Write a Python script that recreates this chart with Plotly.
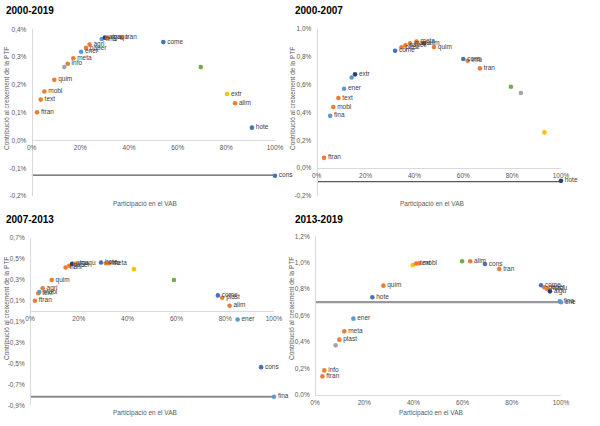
import plotly.graph_objects as go

# ---------------- DATA ----------------
titles = ["2000-2019", "2000-2007", "2007-2013", "2013-2019"]
x_title = "Participació en el VAB"
y_title = "Contribució al creixement de la PTF"

# Panel 1: 2000-2019 (x: % VAB share, y: % contribution)
p1_x = [2.2, 3.7, 5.2, 9.3, 13.4, 14.8, 17.1, 20.3, 22.3, 23.8, 28.8, 30.1, 31.2, 37.0, 54.1, 69.5, 80.3, 83.6, 90.5, 100.0]
p1_y = [0.101, 0.147, 0.176, 0.218, 0.264, 0.276, 0.296, 0.319, 0.333, 0.345, 0.365, 0.370, 0.370, 0.370, 0.354, 0.264, 0.167, 0.134, 0.046, -0.127]
p1_lab = ["ftran", "text", "mobl", "quim", "", "info", "meta", "ener", "paper", "agri", "fina", "aigu", "maqu", "tran", "come", "", "extr", "alim", "hote", "cons"]
p1_grp = ["o", "o", "o", "o", "g", "o", "o", "lb", "o", "o", "lb", "nv", "o", "o", "db", "gr", "y", "o", "db", "db"]
p1_ref = -0.125

# Panel 2: 2000-2007
p2_x = [3.0, 5.5, 6.8, 8.9, 11.2, 14.3, 15.7, 32.1, 34.7, 36.3, 38.2, 40.9, 43.9, 48.0, 60.0, 61.8, 66.8, 79.5, 83.6, 93.2, 100.0]
p2_y = [0.074, 0.376, 0.439, 0.504, 0.571, 0.652, 0.674, 0.844, 0.868, 0.882, 0.897, 0.909, 0.897, 0.870, 0.784, 0.772, 0.717, 0.585, 0.540, 0.257, -0.091]
p2_lab = ["ftran", "fina", "mobl", "text", "ener", "", "extr", "come", "plast", "paper", "maqu", "meta", "alim", "quim", "cons", "info", "tran", "", "", "", "hote"]
p2_grp = ["o", "lb", "o", "o", "lb", "lb", "nv", "db", "o", "o", "o", "o", "br", "o", "db", "o", "o", "gr", "g", "y", "nv"]
p2_ref = -0.096

# Panel 3: 2007-2013
p3_x = [2.0, 3.4, 3.8, 5.2, 8.9, 14.6, 16.1, 17.3, 18.6, 29.1, 31.1, 32.2, 42.6, 59.0, 77.0, 78.8, 81.8, 85.1, 94.7, 100.0]
p3_y = [0.100, 0.171, 0.183, 0.219, 0.299, 0.418, 0.434, 0.453, 0.453, 0.466, 0.459, 0.459, 0.402, 0.299, 0.151, 0.129, 0.052, -0.080, -0.535, -0.818]
p3_lab = ["ftran", "text", "mobl", "agri", "quim", "tran", "paper", "aigu", "maqu", "hote", "info", "meta", "", "", "come", "plast", "alim", "ener", "cons", "fina"]
p3_grp = ["o", "o", "lb", "o", "o", "o", "o", "nv", "o", "db", "o", "o", "y", "gr", "db", "o", "o", "lb", "db", "lb"]
p3_ref = -0.818

# Panel 4: 2013-2019
p4_x = [3.0, 3.8, 8.4, 9.9, 11.9, 15.6, 23.3, 27.8, 39.7, 41.1, 42.3, 59.8, 63.1, 69.1, 74.9, 91.9, 93.2, 94.3, 95.5, 99.5, 100.0]
p4_y = [0.139, 0.184, 0.374, 0.417, 0.480, 0.576, 0.738, 0.826, 0.983, 0.993, 0.995, 1.011, 1.011, 0.990, 0.953, 0.829, 0.814, 0.803, 0.783, 0.707, 0.700]
p4_lab = ["ftran", "info", "", "plast", "meta", "ener", "hote", "quim", "", "text", "mobl", "", "alim", "cons", "tran", "come", "paper", "maqu", "aigu", "fina", "ene"]
p4_grp = ["o", "o", "g", "o", "o", "lb", "db", "o", "y", "o", "o", "gr", "o", "db", "o", "db", "o", "o", "nv", "lb", "lb"]
p4_ref = 0.702

x_tickvals = [0, 20, 40, 60, 80, 100]
x_ticktext = ["0%", "20%", "40%", "60%", "80%", "100%"]
p1_yticks = [-0.2, -0.1, 0.0, 0.1, 0.2, 0.3, 0.4]
p1_yticktext = ["-0,2%", "-0,1%", "0,0%", "0,1%", "0,2%", "0,3%", "0,4%"]
p2_yticks = [-0.2, 0.0, 0.2, 0.4, 0.6, 0.8, 1.0]
p2_yticktext = ["-0,2%", "0,0%", "0,2%", "0,4%", "0,6%", "0,8%", "1,0%"]
p3_yticks = [-0.9, -0.7, -0.5, -0.3, -0.1, 0.1, 0.3, 0.5, 0.7]
p3_yticktext = ["-0,9%", "-0,7%", "-0,5%", "-0,3%", "-0,1%", "0,1%", "0,3%", "0,5%", "0,7%"]
p4_yticks = [0.0, 0.2, 0.4, 0.6, 0.8, 1.0, 1.2]
p4_yticktext = ["0,0%", "0,2%", "0,4%", "0,6%", "0,8%", "1,0%", "1,2%"]

# ---------------- STYLE / LAYOUT ----------------
W, H = 600, 426
colors = {"o": "#ED7D31", "lb": "#5B9BD5", "db": "#4472C4", "nv": "#264478",
          "g": "#A5A5A5", "y": "#FFC000", "gr": "#70AD47", "br": "#9E480E"}
FONT = "Liberation Sans, Arial, sans-serif"


def px_x(p):
    return p / W


def px_y(p):
    return 1 - p / H


panels = [
    dict(x=p1_x, y=p1_y, lab=p1_lab, grp=p1_grp, ref=p1_ref, yt=p1_yticks, ytt=p1_yticktext,
         xdom=[px_x(31.7), px_x(275)], ydom=[px_y(196), px_y(29.3)], yr=[-0.2, 0.4],
         title_xy=(5, 10), ytitle_xy=(6, 99), xtitle_xy=(145, 204), ref_col="#595959", ref_w=1.3),
    dict(x=p2_x, y=p2_y, lab=p2_lab, grp=p2_grp, ref=p2_ref, yt=p2_yticks, ytt=p2_yticktext,
         xdom=[px_x(316.7), px_x(561)], ydom=[px_y(196), px_y(29)], yr=[-0.2, 1.0],
         title_xy=(294, 10), ytitle_xy=(292, 99), xtitle_xy=(432, 204), ref_col="#595959", ref_w=1.3),
    dict(x=p3_x, y=p3_y, lab=p3_lab, grp=p3_grp, ref=p3_ref, yt=p3_yticks, ytt=p3_yticktext,
         xdom=[px_x(30), px_x(274)], ydom=[px_y(405.3), px_y(238)], yr=[-0.9, 0.7],
         title_xy=(5, 219), ytitle_xy=(6, 309), xtitle_xy=(145, 413), ref_col="#8c8c8c", ref_w=2.2),
    dict(x=p4_x, y=p4_y, lab=p4_lab, grp=p4_grp, ref=p4_ref, yt=p4_yticks, ytt=p4_yticktext,
         xdom=[px_x(315), px_x(561)], ydom=[px_y(394.7), px_y(236.3)], yr=[0.0, 1.2],
         title_xy=(294, 219), ytitle_xy=(291, 309), xtitle_xy=(431, 413), ref_col="#999999", ref_w=2.2),
]

fig = go.Figure()
annotations = []
layout_axes = {}

for i, p in enumerate(panels):
    n = "" if i == 0 else str(i + 1)
    xa, ya = "x" + n, "y" + n
    # reference line at the level of the last sector, across the axis
    fig.add_trace(go.Scatter(
        x=[x_tickvals[0], max(p["x"])], y=[p["ref"], p["ref"]], mode="lines",
        line=dict(color=p["ref_col"], width=p["ref_w"]),
        xaxis=xa, yaxis=ya, showlegend=False, hoverinfo="skip"))
    fig.add_trace(go.Scatter(
        x=p["x"], y=p["y"], mode="markers+text", text=p["lab"],
        textposition="middle right",
        textfont=dict(family=FONT, size=6.5, color="#404040"),
        marker=dict(size=4.6, color=[colors[g] for g in p["grp"]]),
        xaxis=xa, yaxis=ya, showlegend=False, cliponaxis=False))

    y0, y1 = p["yr"]
    d0, d1 = p["ydom"]
    zero_pos = d0 + (0 - y0) / (y1 - y0) * (d1 - d0)
    layout_axes["xaxis" + n] = dict(
        domain=p["xdom"], range=[0, 100], anchor="free", position=zero_pos,
        tickvals=x_tickvals, ticktext=x_ticktext, showgrid=False, zeroline=False,
        showline=True, linecolor="#d9d9d9", linewidth=1, ticks="",
        ticklabelstandoff=1, automargin=False,
        tickfont=dict(family=FONT, size=6.5, color="#595959"), fixedrange=True)
    layout_axes["yaxis" + n] = dict(
        domain=p["ydom"], range=p["yr"], anchor="free", position=p["xdom"][0],
        tickvals=p["yt"], ticktext=p["ytt"], showgrid=False, zeroline=False,
        showline=True, linecolor="#d9d9d9", linewidth=1, ticks="",
        ticklabelstandoff=4, automargin=False,
        tickfont=dict(family=FONT, size=6.5, color="#595959"), fixedrange=True)

    tx, ty = p["title_xy"]
    annotations.append(dict(text="<b>%s</b>" % titles[i], x=px_x(tx), y=px_y(ty), xref="paper", yref="paper",
                            xanchor="left", yanchor="middle", showarrow=False, borderpad=0,
                            font=dict(family=FONT, size=10, color="#000000")))
    yx, yy = p["ytitle_xy"]
    annotations.append(dict(text=y_title, x=px_x(yx), y=px_y(yy), xref="paper", yref="paper",
                            xanchor="center", yanchor="middle", textangle=-90, showarrow=False,
                            font=dict(family=FONT, size=6.5, color="#595959")))
    xx, xy = p["xtitle_xy"]
    annotations.append(dict(text=x_title, x=px_x(xx), y=px_y(xy), xref="paper", yref="paper",
                            xanchor="center", yanchor="middle", showarrow=False,
                            font=dict(family=FONT, size=6.5, color="#595959")))

fig.update_layout(
    width=W, height=H, margin=dict(l=0, r=0, t=0, b=0, autoexpand=False),
    paper_bgcolor="white", plot_bgcolor="white",
    annotations=annotations, showlegend=False,
    **layout_axes)

fig.write_html("out.html", config={"displayModeBar": False},
               post_script="document.body.style.margin='0';")
